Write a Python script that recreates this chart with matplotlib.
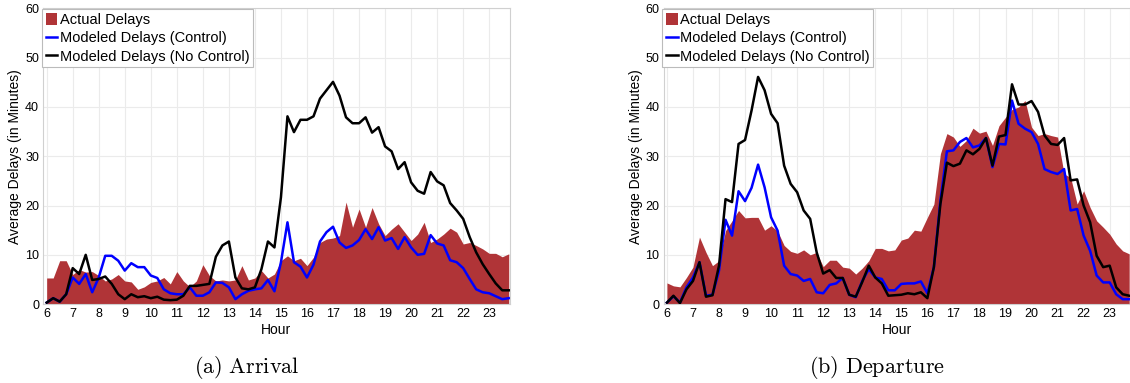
import numpy as np
import matplotlib
matplotlib.use("Agg")
import matplotlib.pyplot as plt

plt.rcParams['font.family'] = ['Liberation Sans', 'DejaVu Sans']
plt.rcParams['mathtext.fontset'] = 'cm'

# 15-minute bins from 6:00 to 23:45
hours = np.arange(72) * 0.25 + 6

arr_actual = [5.3, 5.3, 8.8, 8.8, 6.0, 7.0, 6.5, 6.6, 5.8, 4.7,
              5.1, 6.0, 4.7, 4.5, 3.0, 3.5, 4.4, 4.7, 5.4, 4.1,
              6.6, 4.7, 3.5, 4.7, 8.0, 5.8, 4.7, 4.9, 4.7, 4.9,
              7.8, 4.9, 5.3, 6.8, 5.3, 6.1,
              8.8, 9.8, 8.8, 9.3, 7.8, 9.5, 12.5, 13.2, 13.4, 13.9,
              20.7, 15.6, 19.3, 15.6, 19.6, 16.3, 13.9, 15.2, 16.3, 14.6,
              12.9, 14.2, 16.6, 12.5, 13.2, 14.2, 15.4, 14.6, 12.2, 12.5,
              11.9, 11.2, 10.3, 10.3, 9.6, 10.2]
arr_control = [0.3, 1.2, 0.5, 2.0, 5.4, 4.1, 6.1, 2.4, 5.4, 9.8,
               9.8, 8.8, 6.8, 8.3, 7.5, 7.5, 5.8, 5.3, 3.0, 2.2,
               2.0, 2.0, 3.4, 1.7, 1.7, 2.4, 4.4, 4.3, 3.4, 1.0,
               2.0, 2.7, 3.0, 3.2, 4.9, 2.6,
               8.5, 16.6, 8.5, 7.6, 5.4, 8.0, 12.7, 14.6, 15.7, 12.5,
               11.4, 11.9, 13.0, 15.2, 13.2, 15.6, 12.9, 13.4, 11.2, 13.6,
               11.5, 10.0, 10.2, 14.0, 12.3, 11.9, 8.9, 8.5, 7.3, 5.1,
               3.0, 2.4, 2.2, 1.6, 1.0, 1.2]
arr_nocontrol = [0.3, 1.2, 0.5, 2.0, 7.3, 6.1, 10.0, 4.9, 5.1, 5.6,
                 4.1, 2.0, 1.0, 2.0, 1.4, 1.6, 1.2, 1.5, 0.9, 0.8,
                 0.9, 1.7, 3.7, 3.7, 3.9, 4.1, 9.6, 11.9, 12.7, 5.4,
                 3.2, 3.0, 3.4, 7.1, 12.7, 11.5,
                 21.7, 38.1, 34.9, 37.4, 37.4, 38.1, 41.7, 43.4, 45.1, 42.3,
                 37.9, 36.7, 36.7, 37.9, 34.8, 35.9, 32.0, 31.0, 27.4, 28.8,
                 24.7, 23.0, 22.4, 26.8, 24.9, 24.1, 20.5, 19.0, 17.3, 13.6,
                 10.5, 8.1, 6.1, 4.2, 2.8, 2.8]

dep_actual = [4.3, 3.7, 3.5, 5.4, 7.5, 13.6, 10.5, 7.8, 8.8, 14.9,
              16.9, 19.0, 17.5, 17.6, 17.6, 15.0, 15.9, 14.8, 11.9, 10.7,
              10.3, 11.0, 10.0, 10.5, 7.6, 8.9, 8.9, 7.5, 7.3, 6.1,
              7.3, 8.8, 11.3, 11.3, 10.8, 11.0,
              13.0, 13.4, 15.0, 14.8, 17.6, 20.3, 30.5, 34.6, 33.9, 32.0,
              33.2, 35.7, 34.7, 35.1, 32.2, 36.2, 37.9, 39.5, 40.0, 41.3,
              35.9, 34.2, 34.6, 34.2, 33.9, 26.4, 25.7, 20.3, 23.0, 19.6,
              16.9, 15.6, 14.2, 12.2, 10.8, 10.2]
dep_control = [0.3, 1.6, 0.3, 3.4, 5.4, 8.5, 1.7, 1.9, 6.8, 17.1,
               13.9, 22.9, 20.9, 23.6, 28.3, 23.7, 17.6, 14.9, 7.8, 6.1,
               5.8, 4.7, 5.1, 2.4, 2.2, 3.9, 4.2, 5.3, 1.9, 1.4,
               4.7, 7.1, 5.4, 5.1, 2.8, 2.8,
               4.1, 4.2, 4.2, 4.6, 2.2, 7.5, 21.0, 31.0, 31.2, 32.9,
               33.7, 31.8, 32.2, 33.7, 27.8, 32.5, 32.4, 41.3, 36.6, 35.6,
               34.9, 32.5, 27.4, 26.8, 26.4, 27.4, 19.0, 19.3, 13.9, 10.8,
               5.8, 4.4, 4.4, 2.0, 1.0, 1.0]
dep_nocontrol = [0.3, 1.7, 0.2, 3.0, 4.7, 8.5, 1.5, 1.8, 7.8, 21.3,
                 20.7, 32.5, 33.3, 39.3, 46.1, 43.4, 38.6, 36.7, 28.1, 24.4,
                 22.7, 19.0, 17.3, 10.5, 6.2, 6.9, 5.3, 5.3, 1.9, 1.5,
                 4.5, 7.8, 5.4, 4.2, 1.7, 1.8,
                 1.9, 2.2, 2.0, 2.4, 1.2, 7.5, 20.3, 28.7, 28.0, 28.5,
                 31.2, 30.4, 31.5, 33.7, 28.1, 34.0, 34.3, 44.6, 40.5, 40.5,
                 41.2, 39.0, 34.2, 32.5, 32.3, 33.7, 25.1, 25.3, 20.0, 16.6,
                 9.8, 7.5, 7.8, 3.4, 2.0, 1.7]

hour_ticks = list(range(6, 24))
delay_ticks = [0, 10, 20, 30, 40, 50, 60]
captions = ['(a)\\ Arrival', '(b)\\ Departure']

fill_color = '#b03437'

fig = plt.figure(figsize=(11.3, 3.83), dpi=100)
ax1 = fig.add_axes([0.0383, 0.206, 0.4126, 0.772])
ax2 = fig.add_axes([0.5872, 0.206, 0.4128, 0.772])

panels = [(ax1, arr_actual, arr_control, arr_nocontrol),
          (ax2, dep_actual, dep_control, dep_nocontrol)]

for ax, actual, ctrl, noctrl in panels:
    ax.fill_between(hours, 0, actual, color=fill_color, lw=0, label='Actual Delays', zorder=2)
    ax.plot(hours, ctrl, color='#0000ff', lw=1.8, label='Modeled Delays (Control)', zorder=3)
    ax.plot(hours, noctrl, color='black', lw=1.8, label='Modeled Delays (No Control)', zorder=4)
    ax.set_xlim(5.87, 23.78)
    ax.set_ylim(0, 60)
    ax.set_xticks(hour_ticks)
    ax.set_yticks(delay_ticks)
    ax.tick_params(length=0, labelsize=9, pad=3)
    ax.grid(True, color='#ebebeb', lw=0.8, zorder=0)
    ax.set_axisbelow(True)
    for s in ax.spines.values():
        s.set_color('#d0d0d0')
        s.set_linewidth(0.8)
    ax.set_xlabel('Hour', fontsize=10, labelpad=2)
    ax.set_ylabel('Average Delays (in Minutes)', fontsize=10, labelpad=2)
    leg = ax.legend(loc='upper left', bbox_to_anchor=(-0.004, 1.0), fontsize=10.5,
                    fancybox=False, framealpha=1, edgecolor='#bbbbbb',
                    handlelength=0.8, handleheight=0.9, handletextpad=0.15,
                    borderpad=0.25, labelspacing=0.3, borderaxespad=0.05)
    leg.get_frame().set_linewidth(0.8)

fig.text(0.218, 0.04, '$\\mathrm{' + captions[0] + '}$', fontsize=16, ha='center', va='center')
fig.text(0.776, 0.04, '$\\mathrm{' + captions[1] + '}$', fontsize=16, ha='center', va='center')

fig.savefig('out.png', dpi=100)
